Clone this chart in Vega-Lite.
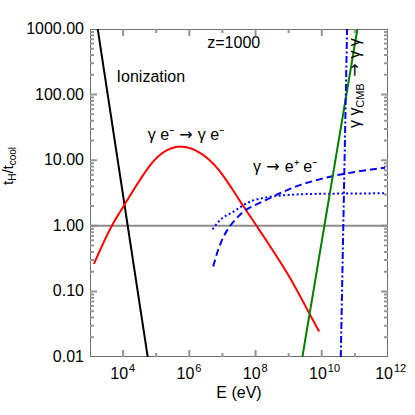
{
  "$schema": "https://vega.github.io/schema/vega-lite/v6.json",
  "width": 298,
  "height": 328,
  "autosize": {"type": "none"},
  "padding": {"left": 90, "top": 29, "right": 27, "bottom": 58},
  "background": "white",
  "config": {
    "font": "Liberation Sans",
    "view": {"stroke": null},
    "axis": {"grid": false, "domain": false, "ticks": false, "tickSize": 0, "labelFont": "Liberation Sans", "labelFontSize": 16, "labelColor": "black", "titleFont": "Liberation Sans", "titleFontSize": 16, "titleFontWeight": "normal", "titleColor": "black"}
  },
  "datasets": {
    "curves": [
      {"s": "frame", "g": "fb", "E": 1000, "r": 0.01},
      {"s": "frame", "g": "fb", "E": 1000000000000, "r": 0.01},
      {"s": "frame", "g": "ft", "E": 1000, "r": 1000},
      {"s": "frame", "g": "ft", "E": 1000000000000, "r": 1000},
      {"s": "frame", "g": "fl", "E": 1000, "r": 0.01},
      {"s": "frame", "g": "fl", "E": 1000, "r": 1000},
      {"s": "frame", "g": "fr", "E": 1000000000000, "r": 0.01},
      {"s": "frame", "g": "fr", "E": 1000000000000, "r": 1000},
      {"s": "tick", "g": "xMb4", "E": 10000, "r": 0.01},
      {"s": "tick", "g": "xMb4", "E": 10000, "r": 0.01279},
      {"s": "tick", "g": "xMb6", "E": 1000000, "r": 0.01},
      {"s": "tick", "g": "xMb6", "E": 1000000, "r": 0.01279},
      {"s": "tick", "g": "xMb8", "E": 100000000, "r": 0.01},
      {"s": "tick", "g": "xMb8", "E": 100000000, "r": 0.01279},
      {"s": "tick", "g": "xMb10", "E": 10000000000, "r": 0.01},
      {"s": "tick", "g": "xMb10", "E": 10000000000, "r": 0.01279},
      {"s": "tick", "g": "xMt4", "E": 10000, "r": 1000},
      {"s": "tick", "g": "xMt4", "E": 10000, "r": 781.9},
      {"s": "tick", "g": "xMt6", "E": 1000000, "r": 1000},
      {"s": "tick", "g": "xMt6", "E": 1000000, "r": 781.9},
      {"s": "tick", "g": "xMt8", "E": 100000000, "r": 1000},
      {"s": "tick", "g": "xMt8", "E": 100000000, "r": 781.9},
      {"s": "tick", "g": "xMt10", "E": 10000000000, "r": 1000},
      {"s": "tick", "g": "xMt10", "E": 10000000000, "r": 781.9},
      {"s": "tick", "g": "xmb5", "E": 100000, "r": 0.01},
      {"s": "tick", "g": "xmb5", "E": 100000, "r": 0.01151},
      {"s": "tick", "g": "xmb7", "E": 10000000, "r": 0.01},
      {"s": "tick", "g": "xmb7", "E": 10000000, "r": 0.01151},
      {"s": "tick", "g": "xmb9", "E": 1000000000, "r": 0.01},
      {"s": "tick", "g": "xmb9", "E": 1000000000, "r": 0.01151},
      {"s": "tick", "g": "xmb11", "E": 100000000000, "r": 0.01},
      {"s": "tick", "g": "xmb11", "E": 100000000000, "r": 0.01151},
      {"s": "tick", "g": "xmt5", "E": 100000, "r": 1000},
      {"s": "tick", "g": "xmt5", "E": 100000, "r": 868.8},
      {"s": "tick", "g": "xmt7", "E": 10000000, "r": 1000},
      {"s": "tick", "g": "xmt7", "E": 10000000, "r": 868.8},
      {"s": "tick", "g": "xmt9", "E": 1000000000, "r": 1000},
      {"s": "tick", "g": "xmt9", "E": 1000000000, "r": 868.8},
      {"s": "tick", "g": "xmt11", "E": 100000000000, "r": 1000},
      {"s": "tick", "g": "xmt11", "E": 100000000000, "r": 868.8},
      {"s": "tick", "g": "yMl0.1", "E": 1000, "r": 0.1},
      {"s": "tick", "g": "yMl0.1", "E": 1627, "r": 0.1},
      {"s": "tick", "g": "yMl1", "E": 1000, "r": 1},
      {"s": "tick", "g": "yMl1", "E": 1627, "r": 1},
      {"s": "tick", "g": "yMl10", "E": 1000, "r": 10},
      {"s": "tick", "g": "yMl10", "E": 1627, "r": 10},
      {"s": "tick", "g": "yMl100", "E": 1000, "r": 100},
      {"s": "tick", "g": "yMl100", "E": 1627, "r": 100},
      {"s": "tick", "g": "yMr0.1", "E": 1000000000000, "r": 0.1},
      {"s": "tick", "g": "yMr0.1", "E": 614600000000, "r": 0.1},
      {"s": "tick", "g": "yMr1", "E": 1000000000000, "r": 1},
      {"s": "tick", "g": "yMr1", "E": 614600000000, "r": 1},
      {"s": "tick", "g": "yMr10", "E": 1000000000000, "r": 10},
      {"s": "tick", "g": "yMr10", "E": 614600000000, "r": 10},
      {"s": "tick", "g": "yMr100", "E": 1000000000000, "r": 100},
      {"s": "tick", "g": "yMr100", "E": 614600000000, "r": 100},
      {"s": "tick", "g": "yml0.02", "E": 1000, "r": 0.02}, {"s": "tick", "g": "yml0.02", "E": 1321, "r": 0.02},
      {"s": "tick", "g": "yml0.03", "E": 1000, "r": 0.03}, {"s": "tick", "g": "yml0.03", "E": 1321, "r": 0.03},
      {"s": "tick", "g": "yml0.04", "E": 1000, "r": 0.04}, {"s": "tick", "g": "yml0.04", "E": 1321, "r": 0.04},
      {"s": "tick", "g": "yml0.05", "E": 1000, "r": 0.05}, {"s": "tick", "g": "yml0.05", "E": 1321, "r": 0.05},
      {"s": "tick", "g": "yml0.06", "E": 1000, "r": 0.06}, {"s": "tick", "g": "yml0.06", "E": 1321, "r": 0.06},
      {"s": "tick", "g": "yml0.07", "E": 1000, "r": 0.07}, {"s": "tick", "g": "yml0.07", "E": 1321, "r": 0.07},
      {"s": "tick", "g": "yml0.08", "E": 1000, "r": 0.08}, {"s": "tick", "g": "yml0.08", "E": 1321, "r": 0.08},
      {"s": "tick", "g": "yml0.09", "E": 1000, "r": 0.09}, {"s": "tick", "g": "yml0.09", "E": 1321, "r": 0.09},
      {"s": "tick", "g": "yml0.2", "E": 1000, "r": 0.2}, {"s": "tick", "g": "yml0.2", "E": 1321, "r": 0.2},
      {"s": "tick", "g": "yml0.3", "E": 1000, "r": 0.3}, {"s": "tick", "g": "yml0.3", "E": 1321, "r": 0.3},
      {"s": "tick", "g": "yml0.4", "E": 1000, "r": 0.4}, {"s": "tick", "g": "yml0.4", "E": 1321, "r": 0.4},
      {"s": "tick", "g": "yml0.5", "E": 1000, "r": 0.5}, {"s": "tick", "g": "yml0.5", "E": 1321, "r": 0.5},
      {"s": "tick", "g": "yml0.6", "E": 1000, "r": 0.6}, {"s": "tick", "g": "yml0.6", "E": 1321, "r": 0.6},
      {"s": "tick", "g": "yml0.7", "E": 1000, "r": 0.7}, {"s": "tick", "g": "yml0.7", "E": 1321, "r": 0.7},
      {"s": "tick", "g": "yml0.8", "E": 1000, "r": 0.8}, {"s": "tick", "g": "yml0.8", "E": 1321, "r": 0.8},
      {"s": "tick", "g": "yml0.9", "E": 1000, "r": 0.9}, {"s": "tick", "g": "yml0.9", "E": 1321, "r": 0.9},
      {"s": "tick", "g": "yml2", "E": 1000, "r": 2}, {"s": "tick", "g": "yml2", "E": 1321, "r": 2},
      {"s": "tick", "g": "yml3", "E": 1000, "r": 3}, {"s": "tick", "g": "yml3", "E": 1321, "r": 3},
      {"s": "tick", "g": "yml4", "E": 1000, "r": 4}, {"s": "tick", "g": "yml4", "E": 1321, "r": 4},
      {"s": "tick", "g": "yml5", "E": 1000, "r": 5}, {"s": "tick", "g": "yml5", "E": 1321, "r": 5},
      {"s": "tick", "g": "yml6", "E": 1000, "r": 6}, {"s": "tick", "g": "yml6", "E": 1321, "r": 6},
      {"s": "tick", "g": "yml7", "E": 1000, "r": 7}, {"s": "tick", "g": "yml7", "E": 1321, "r": 7},
      {"s": "tick", "g": "yml8", "E": 1000, "r": 8}, {"s": "tick", "g": "yml8", "E": 1321, "r": 8},
      {"s": "tick", "g": "yml9", "E": 1000, "r": 9}, {"s": "tick", "g": "yml9", "E": 1321, "r": 9},
      {"s": "tick", "g": "yml20", "E": 1000, "r": 20}, {"s": "tick", "g": "yml20", "E": 1321, "r": 20},
      {"s": "tick", "g": "yml30", "E": 1000, "r": 30}, {"s": "tick", "g": "yml30", "E": 1321, "r": 30},
      {"s": "tick", "g": "yml40", "E": 1000, "r": 40}, {"s": "tick", "g": "yml40", "E": 1321, "r": 40},
      {"s": "tick", "g": "yml50", "E": 1000, "r": 50}, {"s": "tick", "g": "yml50", "E": 1321, "r": 50},
      {"s": "tick", "g": "yml60", "E": 1000, "r": 60}, {"s": "tick", "g": "yml60", "E": 1321, "r": 60},
      {"s": "tick", "g": "yml70", "E": 1000, "r": 70}, {"s": "tick", "g": "yml70", "E": 1321, "r": 70},
      {"s": "tick", "g": "yml80", "E": 1000, "r": 80}, {"s": "tick", "g": "yml80", "E": 1321, "r": 80},
      {"s": "tick", "g": "yml90", "E": 1000, "r": 90}, {"s": "tick", "g": "yml90", "E": 1321, "r": 90},
      {"s": "tick", "g": "yml200", "E": 1000, "r": 200}, {"s": "tick", "g": "yml200", "E": 1321, "r": 200},
      {"s": "tick", "g": "yml300", "E": 1000, "r": 300}, {"s": "tick", "g": "yml300", "E": 1321, "r": 300},
      {"s": "tick", "g": "yml400", "E": 1000, "r": 400}, {"s": "tick", "g": "yml400", "E": 1321, "r": 400},
      {"s": "tick", "g": "yml500", "E": 1000, "r": 500}, {"s": "tick", "g": "yml500", "E": 1321, "r": 500},
      {"s": "tick", "g": "yml600", "E": 1000, "r": 600}, {"s": "tick", "g": "yml600", "E": 1321, "r": 600},
      {"s": "tick", "g": "yml700", "E": 1000, "r": 700}, {"s": "tick", "g": "yml700", "E": 1321, "r": 700},
      {"s": "tick", "g": "yml800", "E": 1000, "r": 800}, {"s": "tick", "g": "yml800", "E": 1321, "r": 800},
      {"s": "tick", "g": "yml900", "E": 1000, "r": 900}, {"s": "tick", "g": "yml900", "E": 1321, "r": 900},
      {"s": "tick", "g": "ymr0.02", "E": 1000000000000, "r": 0.02}, {"s": "tick", "g": "ymr0.02", "E": 757000000000, "r": 0.02},
      {"s": "tick", "g": "ymr0.03", "E": 1000000000000, "r": 0.03}, {"s": "tick", "g": "ymr0.03", "E": 757000000000, "r": 0.03},
      {"s": "tick", "g": "ymr0.04", "E": 1000000000000, "r": 0.04}, {"s": "tick", "g": "ymr0.04", "E": 757000000000, "r": 0.04},
      {"s": "tick", "g": "ymr0.05", "E": 1000000000000, "r": 0.05}, {"s": "tick", "g": "ymr0.05", "E": 757000000000, "r": 0.05},
      {"s": "tick", "g": "ymr0.06", "E": 1000000000000, "r": 0.06}, {"s": "tick", "g": "ymr0.06", "E": 757000000000, "r": 0.06},
      {"s": "tick", "g": "ymr0.07", "E": 1000000000000, "r": 0.07}, {"s": "tick", "g": "ymr0.07", "E": 757000000000, "r": 0.07},
      {"s": "tick", "g": "ymr0.08", "E": 1000000000000, "r": 0.08}, {"s": "tick", "g": "ymr0.08", "E": 757000000000, "r": 0.08},
      {"s": "tick", "g": "ymr0.09", "E": 1000000000000, "r": 0.09}, {"s": "tick", "g": "ymr0.09", "E": 757000000000, "r": 0.09},
      {"s": "tick", "g": "ymr0.2", "E": 1000000000000, "r": 0.2}, {"s": "tick", "g": "ymr0.2", "E": 757000000000, "r": 0.2},
      {"s": "tick", "g": "ymr0.3", "E": 1000000000000, "r": 0.3}, {"s": "tick", "g": "ymr0.3", "E": 757000000000, "r": 0.3},
      {"s": "tick", "g": "ymr0.4", "E": 1000000000000, "r": 0.4}, {"s": "tick", "g": "ymr0.4", "E": 757000000000, "r": 0.4},
      {"s": "tick", "g": "ymr0.5", "E": 1000000000000, "r": 0.5}, {"s": "tick", "g": "ymr0.5", "E": 757000000000, "r": 0.5},
      {"s": "tick", "g": "ymr0.6", "E": 1000000000000, "r": 0.6}, {"s": "tick", "g": "ymr0.6", "E": 757000000000, "r": 0.6},
      {"s": "tick", "g": "ymr0.7", "E": 1000000000000, "r": 0.7}, {"s": "tick", "g": "ymr0.7", "E": 757000000000, "r": 0.7},
      {"s": "tick", "g": "ymr0.8", "E": 1000000000000, "r": 0.8}, {"s": "tick", "g": "ymr0.8", "E": 757000000000, "r": 0.8},
      {"s": "tick", "g": "ymr0.9", "E": 1000000000000, "r": 0.9}, {"s": "tick", "g": "ymr0.9", "E": 757000000000, "r": 0.9},
      {"s": "tick", "g": "ymr2", "E": 1000000000000, "r": 2}, {"s": "tick", "g": "ymr2", "E": 757000000000, "r": 2},
      {"s": "tick", "g": "ymr3", "E": 1000000000000, "r": 3}, {"s": "tick", "g": "ymr3", "E": 757000000000, "r": 3},
      {"s": "tick", "g": "ymr4", "E": 1000000000000, "r": 4}, {"s": "tick", "g": "ymr4", "E": 757000000000, "r": 4},
      {"s": "tick", "g": "ymr5", "E": 1000000000000, "r": 5}, {"s": "tick", "g": "ymr5", "E": 757000000000, "r": 5},
      {"s": "tick", "g": "ymr6", "E": 1000000000000, "r": 6}, {"s": "tick", "g": "ymr6", "E": 757000000000, "r": 6},
      {"s": "tick", "g": "ymr7", "E": 1000000000000, "r": 7}, {"s": "tick", "g": "ymr7", "E": 757000000000, "r": 7},
      {"s": "tick", "g": "ymr8", "E": 1000000000000, "r": 8}, {"s": "tick", "g": "ymr8", "E": 757000000000, "r": 8},
      {"s": "tick", "g": "ymr9", "E": 1000000000000, "r": 9}, {"s": "tick", "g": "ymr9", "E": 757000000000, "r": 9},
      {"s": "tick", "g": "ymr20", "E": 1000000000000, "r": 20}, {"s": "tick", "g": "ymr20", "E": 757000000000, "r": 20},
      {"s": "tick", "g": "ymr30", "E": 1000000000000, "r": 30}, {"s": "tick", "g": "ymr30", "E": 757000000000, "r": 30},
      {"s": "tick", "g": "ymr40", "E": 1000000000000, "r": 40}, {"s": "tick", "g": "ymr40", "E": 757000000000, "r": 40},
      {"s": "tick", "g": "ymr50", "E": 1000000000000, "r": 50}, {"s": "tick", "g": "ymr50", "E": 757000000000, "r": 50},
      {"s": "tick", "g": "ymr60", "E": 1000000000000, "r": 60}, {"s": "tick", "g": "ymr60", "E": 757000000000, "r": 60},
      {"s": "tick", "g": "ymr70", "E": 1000000000000, "r": 70}, {"s": "tick", "g": "ymr70", "E": 757000000000, "r": 70},
      {"s": "tick", "g": "ymr80", "E": 1000000000000, "r": 80}, {"s": "tick", "g": "ymr80", "E": 757000000000, "r": 80},
      {"s": "tick", "g": "ymr90", "E": 1000000000000, "r": 90}, {"s": "tick", "g": "ymr90", "E": 757000000000, "r": 90},
      {"s": "tick", "g": "ymr200", "E": 1000000000000, "r": 200}, {"s": "tick", "g": "ymr200", "E": 757000000000, "r": 200},
      {"s": "tick", "g": "ymr300", "E": 1000000000000, "r": 300}, {"s": "tick", "g": "ymr300", "E": 757000000000, "r": 300},
      {"s": "tick", "g": "ymr400", "E": 1000000000000, "r": 400}, {"s": "tick", "g": "ymr400", "E": 757000000000, "r": 400},
      {"s": "tick", "g": "ymr500", "E": 1000000000000, "r": 500}, {"s": "tick", "g": "ymr500", "E": 757000000000, "r": 500},
      {"s": "tick", "g": "ymr600", "E": 1000000000000, "r": 600}, {"s": "tick", "g": "ymr600", "E": 757000000000, "r": 600},
      {"s": "tick", "g": "ymr700", "E": 1000000000000, "r": 700}, {"s": "tick", "g": "ymr700", "E": 757000000000, "r": 700},
      {"s": "tick", "g": "ymr800", "E": 1000000000000, "r": 800}, {"s": "tick", "g": "ymr800", "E": 757000000000, "r": 800},
      {"s": "tick", "g": "ymr900", "E": 1000000000000, "r": 900}, {"s": "tick", "g": "ymr900", "E": 757000000000, "r": 900},
      {"s": "unity", "g": "unity", "E": 1000, "r": 1},
      {"s": "unity", "g": "unity", "E": 1000000000000, "r": 1},
      {"s": "ion", "g": "ion", "E": 1710, "r": 1000},
      {"s": "ion", "g": "ion", "E": 55340, "r": 0.01},
      {"s": "compton", "g": "compton", "E": 1318, "r": 0.263},
      {"s": "compton", "g": "compton", "E": 4571, "r": 1.0},
      {"s": "compton", "g": "compton", "E": 10965, "r": 2.089},
      {"s": "compton", "g": "compton", "E": 32359, "r": 5.012},
      {"s": "compton", "g": "compton", "E": 81283, "r": 9.55},
      {"s": "compton", "g": "compton", "E": 199526, "r": 13.96},
      {"s": "compton", "g": "compton", "E": 524807, "r": 16.07},
      {"s": "compton", "g": "compton", "E": 1000000, "r": 15.35},
      {"s": "compton", "g": "compton", "E": 1995000, "r": 13.12},
      {"s": "compton", "g": "compton", "E": 3981000, "r": 10.12},
      {"s": "compton", "g": "compton", "E": 7943000, "r": 6.98},
      {"s": "compton", "g": "compton", "E": 12020000, "r": 5.25},
      {"s": "compton", "g": "compton", "E": 42660000, "r": 1.995},
      {"s": "compton", "g": "compton", "E": 107200000, "r": 1.0},
      {"s": "compton", "g": "compton", "E": 316200000, "r": 0.437},
      {"s": "compton", "g": "compton", "E": 1000000000, "r": 0.174},
      {"s": "compton", "g": "compton", "E": 4467000000, "r": 0.0437},
      {"s": "compton", "g": "compton", "E": 8318000000, "r": 0.0245},
      {"s": "pair", "g": "pair", "E": 5248000, "r": 0.24},
      {"s": "pair", "g": "pair", "E": 7413000, "r": 0.427},
      {"s": "pair", "g": "pair", "E": 10720000, "r": 0.676},
      {"s": "pair", "g": "pair", "E": 15140000, "r": 0.912},
      {"s": "pair", "g": "pair", "E": 25120000, "r": 1.259},
      {"s": "pair", "g": "pair", "E": 42660000, "r": 1.641},
      {"s": "pair", "g": "pair", "E": 100000000, "r": 2.089},
      {"s": "pair", "g": "pair", "E": 218800000, "r": 2.512},
      {"s": "pair", "g": "pair", "E": 631000000, "r": 3.236},
      {"s": "pair", "g": "pair", "E": 2188000000, "r": 4.169},
      {"s": "pair", "g": "pair", "E": 6310000000, "r": 4.898},
      {"s": "pair", "g": "pair", "E": 22390000000, "r": 5.754},
      {"s": "pair", "g": "pair", "E": 100000000000, "r": 6.607},
      {"s": "pair", "g": "pair", "E": 812800000000, "r": 7.674},
      {"s": "pairdot", "g": "pairdot", "E": 5012000, "r": 0.883},
      {"s": "pairdot", "g": "pairdot", "E": 8511000, "r": 1.225},
      {"s": "pairdot", "g": "pairdot", "E": 21380000, "r": 1.641},
      {"s": "pairdot", "g": "pairdot", "E": 67610000, "r": 2.328},
      {"s": "pairdot", "g": "pairdot", "E": 218800000, "r": 2.716},
      {"s": "pairdot", "g": "pairdot", "E": 691800000, "r": 2.917},
      {"s": "pairdot", "g": "pairdot", "E": 2188000000, "r": 3.02},
      {"s": "pairdot", "g": "pairdot", "E": 20000000000, "r": 3.09},
      {"s": "pairdot", "g": "pairdot", "E": 812800000000, "r": 3.126},
      {"s": "gg", "g": "gg", "E": 2594000000, "r": 0.01},
      {"s": "gg", "g": "gg", "E": 119100000000, "r": 1000},
      {"s": "ggcmb", "g": "ggcmb", "E": 37500000000, "r": 0.01},
      {"s": "ggcmb", "g": "ggcmb", "E": 58080000000, "r": 1000}
    ],
    "yTickLabels": [
      {"t": "0.01", "E": 659, "r": 0.01},
      {"t": "0.10", "E": 659, "r": 0.1},
      {"t": "1.00", "E": 659, "r": 1},
      {"t": "10.00", "E": 659, "r": 10},
      {"t": "100.00", "E": 659, "r": 100},
      {"t": "1000.00", "E": 659, "r": 1000}
    ],
    "xTickBase": [
      {"t": "10", "E": 10000, "r": 0.004624},
      {"t": "10", "E": 1000000, "r": 0.004624},
      {"t": "10", "E": 100000000, "r": 0.004624},
      {"t": "10", "E": 10000000000, "r": 0.004624},
      {"t": "10", "E": 1000000000000, "r": 0.004624}
    ],
    "xTickExp": [
      {"t": "4", "E": 10000, "r": 0.00586},
      {"t": "6", "E": 1000000, "r": 0.00586},
      {"t": "8", "E": 100000000, "r": 0.00586},
      {"t": "10", "E": 10000000000, "r": 0.00586},
      {"t": "12", "E": 1000000000000, "r": 0.00586}
    ],
    "labelsCenter": [
      {"t": "z=1000", "E": 21900000, "r": 508},
      {"t": "Ionization", "E": 68900, "r": 157.3},
      {"t": "E (eV)", "E": 31620000, "r": 0.002345}
    ],
    "labelsRight": [
      {"t": "γ e⁻", "E": 345000, "r": 20.3},
      {"t": "γ", "E": 146600000, "r": 6.68}
    ],
    "labelsLeft": [
      {"t": "γ e⁻", "E": 1810000, "r": 20.3},
      {"t": "e⁺ e⁻", "E": 767000000, "r": 6.68}
    ],
    "arrows": [
      {"t": "→", "E": 789000, "r": 20.3},
      {"t": "→", "E": 336000000, "r": 6.68}
    ],
    "rot16": [
      {"t": "γ γ", "E": 143500000000, "r": 30.9},
      {"t": "γ γ", "E": 143500000000, "r": 354}
    ],
    "rotArrow": [
      {"t": "→", "E": 143500000000, "r": 237}
    ],
    "rot11": [
      {"t": "CMB", "E": 189700000000, "r": 63}
    ],
    "ytitle15": [
      {"t": "t", "E": 4.72, "r": 4.19},
      {"t": "/t", "E": 4.72, "r": 6.25}
    ],
    "ytitle10": [
      {"t": "H", "E": 5.8, "r": 4.85},
      {"t": "cool", "E": 5.8, "r": 8.36}
    ]
  },
  "layer": [
    {
      "data": {"name": "curves"},
      "mark": {"type": "line", "strokeWidth": 2, "clip": true, "interpolate": "monotone"},
      "encoding": {
        "x": {"field": "E", "type": "quantitative", "scale": {"type": "log", "domain": [1000, 1000000000000], "nice": false}, "axis": null},
        "y": {"field": "r", "type": "quantitative", "scale": {"type": "log", "domain": [0.01, 1000], "nice": false}, "axis": null},
        "detail": {"field": "g", "type": "nominal"},
        "color": {"field": "s", "type": "nominal", "scale": {"domain": ["frame", "tick", "unity", "ion", "compton", "pair", "pairdot", "gg", "ggcmb"], "range": ["#6e6e6e", "#959595", "#8c8c8c", "#000000", "#ff0000", "#0000ff", "#0000ff", "#008000", "#0000ff"]}, "legend": null},
        "strokeDash": {"field": "s", "type": "nominal", "scale": {"domain": ["frame", "tick", "unity", "ion", "compton", "pair", "pairdot", "gg", "ggcmb"], "range": [[1, 0], [1, 0], [1, 0], [1, 0], [1, 0], [7, 4], [2, 2.5], [1, 0], [7, 2.5, 2, 2.5]]}, "legend": null}
      }
    },
    {
      "data": {"name": "yTickLabels"},
      "mark": {"type": "text", "fontSize": 16, "align": "right", "baseline": "middle", "color": "black"},
      "encoding": {
        "x": {"field": "E", "type": "quantitative", "axis": null},
        "y": {"field": "r", "type": "quantitative", "axis": null},
        "text": {"field": "t"}
      }
    },
    {
      "data": {"name": "xTickBase"},
      "mark": {"type": "text", "fontSize": 16, "align": "right", "baseline": "alphabetic", "dx": 5, "color": "black"},
      "encoding": {
        "x": {"field": "E", "type": "quantitative", "axis": null},
        "y": {"field": "r", "type": "quantitative", "axis": null},
        "text": {"field": "t"}
      }
    },
    {
      "data": {"name": "xTickExp"},
      "mark": {"type": "text", "fontSize": 11, "align": "left", "baseline": "alphabetic", "dx": 6, "color": "black"},
      "encoding": {
        "x": {"field": "E", "type": "quantitative", "axis": null},
        "y": {"field": "r", "type": "quantitative", "axis": null},
        "text": {"field": "t"}
      }
    },
    {
      "data": {"name": "labelsCenter"},
      "mark": {"type": "text", "fontSize": 16, "align": "center", "baseline": "alphabetic", "color": "black"},
      "encoding": {
        "x": {"field": "E", "type": "quantitative", "axis": null},
        "y": {"field": "r", "type": "quantitative", "axis": null},
        "text": {"field": "t"}
      }
    },
    {
      "data": {"name": "labelsRight"},
      "mark": {"type": "text", "fontSize": 16, "align": "right", "baseline": "alphabetic", "color": "black"},
      "encoding": {
        "x": {"field": "E", "type": "quantitative", "axis": null},
        "y": {"field": "r", "type": "quantitative", "axis": null},
        "text": {"field": "t"}
      }
    },
    {
      "data": {"name": "labelsLeft"},
      "mark": {"type": "text", "fontSize": 16, "align": "left", "baseline": "alphabetic", "color": "black"},
      "encoding": {
        "x": {"field": "E", "type": "quantitative", "axis": null},
        "y": {"field": "r", "type": "quantitative", "axis": null},
        "text": {"field": "t"}
      }
    },
    {
      "data": {"name": "arrows"},
      "mark": {"type": "text", "font": "DejaVu Sans", "fontSize": 16, "align": "center", "baseline": "alphabetic", "color": "black"},
      "encoding": {
        "x": {"field": "E", "type": "quantitative", "axis": null},
        "y": {"field": "r", "type": "quantitative", "axis": null},
        "text": {"field": "t"}
      }
    },
    {
      "data": {"name": "rot16"},
      "mark": {"type": "text", "fontSize": 16, "align": "left", "baseline": "alphabetic", "angle": 270, "color": "black"},
      "encoding": {
        "x": {"field": "E", "type": "quantitative", "axis": null},
        "y": {"field": "r", "type": "quantitative", "axis": null},
        "text": {"field": "t"}
      }
    },
    {
      "data": {"name": "rotArrow"},
      "mark": {"type": "text", "font": "DejaVu Sans", "fontSize": 16, "align": "center", "baseline": "alphabetic", "angle": 270, "color": "black"},
      "encoding": {
        "x": {"field": "E", "type": "quantitative", "axis": null},
        "y": {"field": "r", "type": "quantitative", "axis": null},
        "text": {"field": "t"}
      }
    },
    {
      "data": {"name": "rot11"},
      "mark": {"type": "text", "fontSize": 11, "align": "left", "baseline": "alphabetic", "angle": 270, "color": "black"},
      "encoding": {
        "x": {"field": "E", "type": "quantitative", "axis": null},
        "y": {"field": "r", "type": "quantitative", "axis": null},
        "text": {"field": "t"}
      }
    },
    {
      "data": {"name": "ytitle15"},
      "mark": {"type": "text", "fontSize": 15, "align": "left", "baseline": "alphabetic", "angle": 270, "color": "black"},
      "encoding": {
        "x": {"field": "E", "type": "quantitative", "axis": null},
        "y": {"field": "r", "type": "quantitative", "axis": null},
        "text": {"field": "t"}
      }
    },
    {
      "data": {"name": "ytitle10"},
      "mark": {"type": "text", "fontSize": 10, "align": "left", "baseline": "alphabetic", "angle": 270, "color": "black"},
      "encoding": {
        "x": {"field": "E", "type": "quantitative", "axis": null},
        "y": {"field": "r", "type": "quantitative", "axis": null},
        "text": {"field": "t"}
      }
    }
  ]
}
